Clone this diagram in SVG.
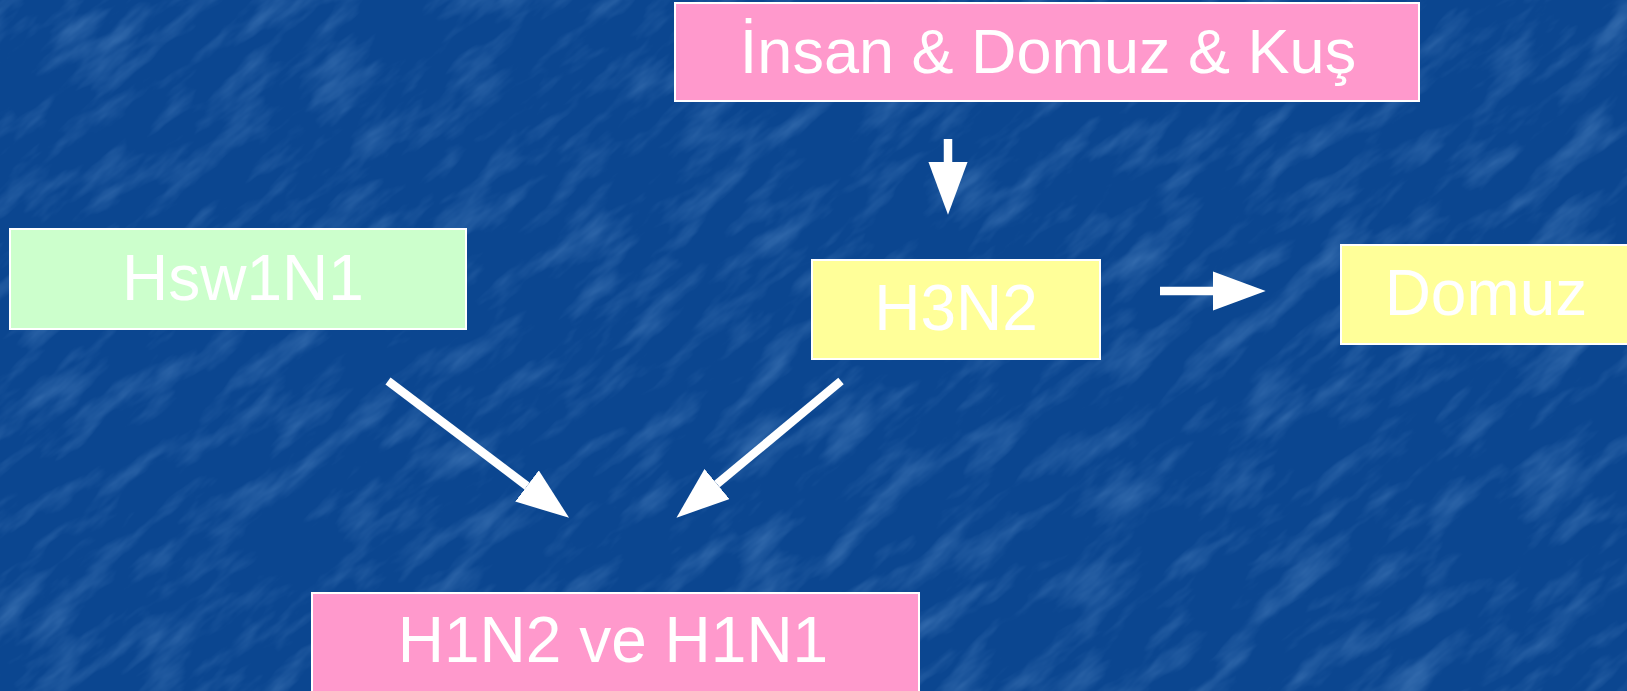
<svg xmlns="http://www.w3.org/2000/svg" width="1627" height="691" viewBox="0 0 1627 691">
  <style>
    .box { stroke: #ffffff; stroke-width: 2; }
    .pink { fill: #ff99cc; }
    .green { fill: #ccffcc; }
    .yellow { fill: #ffff99; }
    .label { font-family: "Liberation Sans", Arial, sans-serif; font-size: 64px; fill: #ffffff; text-anchor: middle; }
    .arrow { stroke: #ffffff; stroke-width: 8.5; fill: none; marker-end: url(#head); }
  </style>
  <defs>
    <marker id="head" markerUnits="strokeWidth" markerWidth="6.2" markerHeight="4.6" refX="0" refY="2.3" orient="auto">
      <path d="M0,0 L6.2,2.3 L0,4.6 Z" fill="#ffffff"/>
    </marker>
    <!-- soft mottled texture for the blue backdrop -->
    <filter id="grain" x="0" y="0" width="100%" height="100%">
      <feTurbulence type="fractalNoise" baseFrequency="0.012 0.04" numOctaves="4" seed="3" result="n"/>
      <feColorMatrix in="n" type="matrix" values="0 0 0 0 0.3  0 0 0 0 0.55  0 0 0 0 0.9  0 0 0 1.8 -0.85"/>
    </filter>
  </defs>

  <!-- backdrop -->
  <rect width="1627" height="691" fill="#0b4690"/>
  <g transform="rotate(-40 813 345)" opacity="0.35">
    <rect x="-600" y="-700" width="2800" height="2100" filter="url(#grain)"/>
  </g>

  <!-- connectors -->
  <g id="connectors">
    <line class="arrow" x1="948" y1="139" x2="948" y2="162"/>
    <line class="arrow" x1="1160" y1="291" x2="1213" y2="291"/>
    <line class="arrow" x1="388" y1="381" x2="527" y2="486"/>
    <line class="arrow" x1="841" y1="381" x2="717" y2="484"/>
  </g>

  <g id="node-insan-domuz-kus">
    <rect class="box pink" x="675" y="3" width="744" height="98"/>
    <text class="label" x="1048" y="73" style="font-size:63px">İnsan &amp; Domuz &amp; Kuş</text>
  </g>

  <g id="node-hsw1n1">
    <rect class="box green" x="10" y="229" width="456" height="100"/>
    <text class="label" x="243" y="300">Hsw1N1</text>
  </g>

  <g id="node-h3n2">
    <rect class="box yellow" x="812" y="260" width="288" height="99"/>
    <text class="label" x="956" y="330">H3N2</text>
  </g>

  <g id="node-domuz">
    <rect class="box yellow" x="1341" y="245" width="300" height="99"/>
    <text class="label" x="1486" y="315">Domuz</text>
  </g>

  <g id="node-h1n2-h1n1">
    <rect class="box pink" x="312" y="593" width="607" height="110"/>
    <text class="label" x="613" y="662">H1N2 ve H1N1</text>
  </g>
</svg>
